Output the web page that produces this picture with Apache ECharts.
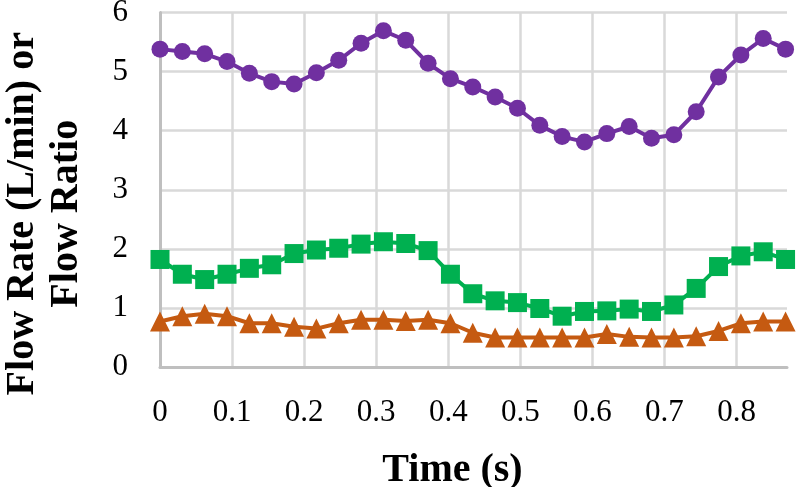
<!DOCTYPE html>
<html>
<head>
<meta charset="utf-8">
<script src="https://cdn.jsdelivr.net/npm/echarts@6/dist/echarts.min.js"></script>
<style>html,body{margin:0;padding:0;background:#fff}#c{width:800px;height:487px}</style>
</head>
<body>
<div id="c"></div>
<script>
const times = [0, 0.031, 0.062, 0.093, 0.124, 0.155, 0.186, 0.217, 0.248, 0.279, 0.31, 0.341, 0.372, 0.403, 0.434, 0.465, 0.496, 0.527, 0.558, 0.589, 0.62, 0.651, 0.682, 0.713, 0.744, 0.775, 0.806, 0.837, 0.868];
const purpleValues = [5.38, 5.34, 5.30, 5.17, 4.97, 4.83, 4.79, 4.98, 5.19, 5.48, 5.69, 5.53, 5.14, 4.88, 4.74, 4.57, 4.38, 4.09, 3.90, 3.81, 3.95, 4.07, 3.87, 3.93, 4.32, 4.91, 5.28, 5.56, 5.38];
const greenValues = [1.82, 1.57, 1.48, 1.57, 1.67, 1.73, 1.92, 1.98, 2.01, 2.08, 2.12, 2.09, 1.97, 1.57, 1.24, 1.12, 1.09, 0.99, 0.86, 0.94, 0.95, 0.98, 0.94, 1.05, 1.33, 1.70, 1.88, 1.95, 1.82];
const orangeValues = [0.77, 0.86, 0.90, 0.86, 0.74, 0.74, 0.68, 0.65, 0.74, 0.80, 0.80, 0.78, 0.80, 0.74, 0.58, 0.50, 0.50, 0.50, 0.50, 0.50, 0.56, 0.51, 0.50, 0.50, 0.52, 0.61, 0.74, 0.77, 0.77];
const xTicks = [0, 0.1, 0.2, 0.3, 0.4, 0.5, 0.6, 0.7, 0.8];
const xTitle = 'Time (s)';
const yTitle = 'Flow Rate (L/min) or\nFlow Ratio';

const pairs = v => times.map((t, i) => [t, v[i]]);
const chart = echarts.init(document.getElementById('c'), null, {renderer: 'canvas'});
const serif = '"Liberation Serif", "Times New Roman", serif';
chart.setOption({
  animation: false,
  backgroundColor: '#ffffff',
  grid: {left: 160, right: 13, top: 12.5, bottom: 120, containLabel: false, outerBoundsMode: 'none'},
  xAxis: {
    type: 'value', min: 0, max: 0.87,
    name: xTitle, nameLocation: 'middle', nameGap: 84,
    nameTextStyle: {fontFamily: serif, fontSize: 40, fontWeight: 'bold', color: '#000', padding: [0, 42, 0, 0]},
    axisLine: {show: true, lineStyle: {color: '#BFBFBF', width: 3}},
    axisTick: {show: false, customValues: xTicks},
    axisLabel: {customValues: xTicks, fontFamily: serif, fontSize: 31, color: '#000', margin: 30},
    splitLine: {show: true, lineStyle: {color: '#D9D9D9', width: 2.5}}
  },
  yAxis: {
    type: 'value', min: 0, max: 6, interval: 1,
    name: yTitle, nameLocation: 'middle', nameGap: 71, nameRotate: 90,
    nameTextStyle: {fontFamily: serif, fontSize: 40, fontWeight: 'bold', color: '#000', lineHeight: 44, padding: [0, 48, 0, 0]},
    axisLine: {show: true, lineStyle: {color: '#BFBFBF', width: 3}},
    axisTick: {show: false},
    axisLabel: {fontFamily: serif, fontSize: 31, color: '#000', margin: 32},
    splitLine: {show: true, lineStyle: {color: '#D9D9D9', width: 2.5}}
  },
  series: [
    {name: 'Purple', type: 'line', data: pairs(purpleValues), symbol: 'circle', symbolSize: 17,
     lineStyle: {color: '#7030A0', width: 4}, itemStyle: {color: '#7030A0'}},
    {name: 'Green', type: 'line', data: pairs(greenValues), symbol: 'rect', symbolSize: 19,
     lineStyle: {color: '#00B050', width: 4}, itemStyle: {color: '#00B050'}},
    {name: 'Orange', type: 'line', data: pairs(orangeValues), symbol: 'triangle', symbolSize: 20,
     lineStyle: {color: '#C55A11', width: 4}, itemStyle: {color: '#C55A11'}}
  ]
});
</script>
</body>
</html>
